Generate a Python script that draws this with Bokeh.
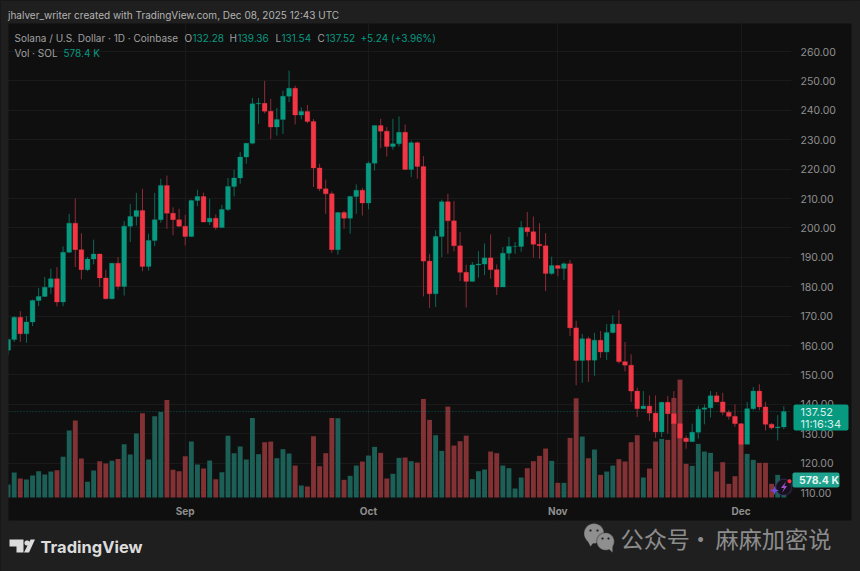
import numpy as np
from bokeh.embed import file_html
from bokeh.resources import INLINE
from bokeh.plotting import figure
from bokeh.models import (ColumnDataSource, Range1d, FixedTicker, Label, BoxAnnotation,
                          PolyAnnotation, NumeralTickFormatter)

# --- daily OHLC (Solana / U.S. Dollar, 3 Aug - 8 Dec 2025) ---
opens = [158.4,162,169.6,164,168,175.3,176.7,179.8,182.7,174.8,191.7,201.6,192.6,185.8,189.4,191.1,183,175.9,188,180.1,
 200.6,203.9,205.9,186.9,195.7,202.8,214.4,205,202.8,200.6,197.1,209.3,210.7,202,203.3,200.1,206.3,214.1,217,224.1,
 228.8,242.2,242.4,239.7,234.3,236.9,244.8,247.5,238.4,239.6,236.2,220.4,213.3,211.6,192.6,205.2,203.3,210.7,212.8,208.5,
 222,234.8,232.9,227.7,228.6,232.5,219.9,229,220.9,188.7,177.6,197.1,208.9,202.4,193.9,184.9,181.8,187.4,187.7,189.8,
 185.8,179.9,191.4,193.7,193.7,200.1,198.7,194.4,193.9,184.5,187.2,186.2,187.8,166,154.9,162.3,155,161.8,157.8,164.4,
 167.3,154.5,153.3,144.5,138.5,139.4,137,130.6,140.7,136.8,133.4,128.5,127.3,130.5,138.3,138.8,142.9,140.8,137.3,135.9,
 133.4,126.4,138.5,144.5,139.1,133.2,132,132.28]
highs = [162.4,170,171.7,170,175.6,179.6,183.3,186.1,186.7,193.7,204.8,210,198.2,190.1,196,191.2,185.8,188,190.1,202.3,
 208.2,211.9,213.3,198,211.9,216.7,217.8,207,206.5,204.5,209.6,213,212,209.9,204.6,207.9,217,219.8,225.8,228.8,
 244.2,244.2,250,243.9,240.8,246.7,253.5,248.4,241,241.8,237,221.8,216.4,212.4,205.4,205.8,210.9,214.8,213.6,222.6,
 234.8,237.1,234.3,237.1,237.9,235.2,229.7,229.4,224.4,191.2,199.2,209.6,211.6,209.1,198.6,187.5,188.4,192.1,194.7,197.8,
 187.6,193.5,196.9,195.2,202.3,205.4,203.9,201.6,198.2,190.2,187.4,188.3,189.1,168.4,163.9,163,164.3,164.9,167.3,170.3,
 172,161.2,157,145.7,144.5,143,143,140.8,142.8,144.5,136.8,129.4,133.4,139.4,140,144.5,144.2,143.9,138,140,
 133.6,140.8,145.9,146.8,140.8,133.6,136.3,139.36]
lows = [156.7,161.2,161.2,160.9,166.6,173.4,176.5,177.6,173.3,173.4,191.5,186.7,182.5,185.3,187.6,179.9,175.7,175.7,179,177,
 195.2,200.8,185.3,185.5,193.8,201.8,199.7,197.5,200.3,194,196.9,207.4,201.9,201,199.4,200.1,205.7,210.7,215,221.8,
 228.4,235.4,239,230.2,231.4,232,242.8,235.2,236.9,235.6,213.9,212.5,204.8,191.5,190.9,199.7,198,204.8,204.2,206.3,
 219.5,227.2,224.3,226.6,227.7,219.8,217.3,216.7,176.7,172.8,173.1,190.1,191.2,192,181.9,172.9,181.8,183.1,183.9,182.7,
 177.2,179.9,189,191.2,191.9,197.1,189.9,189.5,178.5,184,183.6,182.3,163.2,146.5,147.3,147.6,149.7,155.8,155,164.1,
 153.9,151.2,140.8,135.7,138.5,134.3,128.6,128.9,130,126.6,123.8,124.9,127.2,128.3,133.2,135.5,140.6,136.3,134.8,132.3,
 123.6,126.4,138,138,131.1,131.4,127.7,131.54]
closes = [162,169.6,164,168,175.3,176.7,179.8,182.7,174.8,191.7,201.6,192.6,185.8,189.4,191.1,183,175.9,188,180.1,200.6,
 203.9,205.9,186.9,195.7,202.8,214.4,205,202.8,200.6,197.1,209.3,210.7,202,203.3,200.1,206.3,214.1,217,224.1,228.8,
 242.2,242.4,239.7,234.3,236.9,244.8,247.5,238.4,239.6,236.2,220.4,213.3,211.6,192.6,205.2,203.3,210.7,212.8,208.5,222,
 234.8,232.9,227.7,228.6,232.5,219.9,229,220.9,188.7,177.6,197.1,208.9,202.4,193.9,184.9,181.8,187.4,187.7,189.8,185.8,
 179.9,191.4,193.7,193.7,200.1,198.7,194.4,193.9,184.5,187.2,186.2,187.8,166,154.9,162.3,155,161.8,157.8,164.4,167.3,
 154.5,153.3,144.5,138.5,139.4,137,130.6,140.7,136.8,133.4,128.5,127.3,130.5,138.3,138.8,142.9,140.8,137.3,135.9,133.4,
 126.4,138.5,144.5,139.1,133.2,132,132.3,137.52]
# --- daily volume, thousands of SOL ---
volumes = [425,818,621,589,719,861,752,850,894,1330,2191,2518,1275,512,883,1188,1112,1199,1264,1744,
 1406,2093,2758,1243,2660,2801,3194,905,861,1352,1831,1079,948,1210,600,828,2017,1450,1668,1243,
 2605,1417,1809,1831,1286,1581,1439,1046,392,360,2006,1025,1450,2605,2594,578,709,1046,1177,1373,
 1657,1461,621,774,1297,1308,1188,1145,3226,2540,2038,1526,2976,1700,1842,2027,600,861,916,1504,
 1450,1046,959,294,654,959,1188,1363,1602,1199,480,480,1951,3248,1995,1286,1570,741,850,1046,
 1254,1177,1809,2038,654,948,1831,1918,1886,3259,3859,1101,1036,1755,1504,1461,850,1155,447,698,
 1755,1428,1232,1134,1134,447,741,578.4]
price_ticks = [110,120,130,140,150,160,170,180,190,200,210,220,230,240,250,260]
month_positions = [29,59,90,120]
month_labels = ["Sep","Oct","Nov","Dec"]

GREEN, RED = "#089981", "#f23645"
W_GREEN, W_RED = "#0b6a5a", "#8e2c38"
V_GREEN, V_RED = "#1c5f56", "#823234"
BG, OUTER = "#0f0f0f", "#1f1f1f"
FONT = "Inter"

n = len(closes)
idx = list(range(n))
up = [c >= o for o, c in zip(opens, closes)]
src = ColumnDataSource(dict(
    x=idx, open=opens, high=highs, low=lows, close=closes, vol=volumes,
    top=[max(o, c) for o, c in zip(opens, closes)],
    bot=[min(o, c) for o, c in zip(opens, closes)],
    body=[GREEN if u else RED for u in up],
    wick=[W_GREEN if u else W_RED for u in up],
    vcol=[V_GREEN if u else V_RED for u in up],
))

# page-pixel geometry: the frame fills the whole page
WIDTH, HEIGHT = 860, 571
PLOT_R, PLOT_B, PANEL_L, PANEL_R, PANEL_T, PANEL_B = 791, 497, 8, 851, 23, 520
PX_PER_BAR = 6.108
X0_PAGE = 7.6
PX_PER_PRICE = 2.94
Y260_PAGE = 51
K_PER_PX = 32.73

def X(px): return (px - X0_PAGE) / PX_PER_BAR
def Y(py): return 260 - (py - Y260_PAGE) / PX_PER_PRICE

p = figure(width=WIDTH, height=HEIGHT, output_backend="svg", toolbar_location=None,
           x_range=Range1d(X(0), X(WIDTH)), y_range=Range1d(Y(HEIGHT), Y(0)),
           min_border=0, background_fill_color=BG, border_fill_color=OUTER, outline_line_color=None,
           y_axis_location="right")
p.extra_y_ranges = {"vol": Range1d(-(HEIGHT - PLOT_B) * K_PER_PX, PLOT_B * K_PER_PX)}

def box(l, r, t, b, color, level="underlay", radius=0):
    p.add_layout(BoxAnnotation(left=X(l), right=X(r), top=Y(t), bottom=Y(b), fill_color=color, fill_alpha=1,
                               line_color=None, level=level, border_radius=radius))

# bands that hide the grid around the plot area
box(PLOT_R, PANEL_R, PANEL_T, PANEL_B, BG)
box(PANEL_L, PANEL_R, PLOT_B, PANEL_B, BG)
# outer page strips
box(0, WIDTH, 0, PANEL_T, OUTER)
box(0, WIDTH, PANEL_B, HEIGHT, OUTER)
box(PANEL_R, WIDTH, 0, HEIGHT, OUTER)
box(0, PANEL_L, 0, HEIGHT, OUTER, level="annotation")

p.vbar(x="x", width=0.8, bottom=0, top="vol", color="vcol", line_width=0, source=src, y_range_name="vol")
p.segment(x0="x", x1="x", y0="low", y1="high", color="wick", line_width=1, source=src)
p.vbar(x="x", width=0.78, bottom="bot", top="top", fill_color="body", line_color="body", line_width=0.3, source=src)
# last-price line
p.segment(x0=[X(PANEL_L)], x1=[X(PLOT_R)], y0=[closes[-1]], y1=[closes[-1]], line_color=GREEN, line_alpha=0.55,
          line_dash="1 2", line_width=1)

ya = p.yaxis[0]
ya.fixed_location = X(PLOT_R)
ya.ticker = FixedTicker(ticks=price_ticks)
ya.formatter = NumeralTickFormatter(format="0.00")
ya.axis_line_color = None
ya.major_tick_line_color = None
ya.minor_tick_line_color = None
ya.major_tick_out = 0
ya.major_tick_in = 0
ya.major_label_standoff = 9
ya.major_label_text_color = "#8f8f8f"
ya.major_label_text_font = FONT
ya.major_label_text_font_size = "10.5px"

xa = p.xaxis[0]
xa.fixed_location = Y(PLOT_B)
xa.ticker = FixedTicker(ticks=month_positions)
xa.major_label_overrides = dict(zip(month_positions, month_labels))
xa.axis_line_color = None
xa.major_tick_line_color = None
xa.minor_tick_line_color = None
xa.major_tick_out = 0
xa.major_tick_in = 0
xa.major_label_standoff = 7
xa.major_label_text_color = "#8f8f8f"
xa.major_label_text_font = FONT
xa.major_label_text_font_size = "10px"
xa.major_label_text_font_style = "bold"

p.xgrid.grid_line_color = "#1a1a1a"
p.ygrid.grid_line_color = "#1a1a1a"
p.xgrid.ticker = FixedTicker(ticks=month_positions)
p.ygrid.ticker = FixedTicker(ticks=price_ticks)

def text(px, py, s, color, size, align="left", style="normal", font=FONT):
    p.add_layout(Label(x=X(px), y=Y(py), text=s, text_color=color, text_font_size=f"{size}px",
                       text_align=align, text_baseline="middle", text_font=font, text_font_style=style))

def poly(pts, fill, line=None, lw=1, fa=1.0):
    xs = [X(a) for a, _ in pts]
    ys = [Y(b) for _, b in pts]
    p.add_layout(PolyAnnotation(xs=xs, ys=ys, fill_color=fill, fill_alpha=fa, line_color=line, line_width=lw,
                                level="overlay"))

def circle(cx, cy, r, fill, line=None, lw=1, fa=1.0):
    t = np.linspace(0, 2 * np.pi, 40)[:-1]
    poly(list(zip(cx + r * np.cos(t), cy + r * np.sin(t))), fill, line, lw, fa)

# header and legend
G1 = "#b4b4b4"
text(7.5, 14, "jhalver_writer created with TradingView.com, Dec 08, 2025 12:43 UTC", G1, 10)
text(14, 37.5, "Solana / U.S. Dollar · 1D · Coinbase", "#a0a0a0", 10)
for lx, vx, l, v in [(184, 192, "O", "132.28"), (229, 237, "H", "139.36"), (275, 281, "L", "131.54"), (317, 325, "C", "137.52")]:
    text(lx, 37.5, l, "#a0a0a0", 10)
    text(vx, 37.5, v, GREEN, 10)
text(360, 37.5, "+5.24 (+3.96%)", GREEN, 10)
text(14, 52, "Vol · SOL", "#a0a0a0", 10)
text(63, 52, "578.4 K", GREEN, 10)

# price and volume tags
box(793, 848, 404, 430, "#089981", "annotation", 2)
text(800, 411.5, "137.52", "#d8f0ea", 11)
text(800, 423.5, "11:16:34", "#d8f0ea", 11)
box(792, 839, 472, 487, "#1fa28d", "annotation", 2)
text(798.5, 479.5, "578.4 K", "#e4f5f1", 10.5, style="bold")

# bolt badge
circle(783.3, 486.7, 8, "#16121c", "#6d3a9e", 1.5)
poly([(785.5, 481), (780.5, 487.5), (783.5, 487.5), (781.5, 492.5), (786.5, 485.5), (783.8, 485.5)], "#a24fd2")
circle(789, 480.7, 2, "#f23645")
poly([(774, 485.5), (775.2, 488.8), (778.5, 490), (775.2, 491.2), (774, 494.5), (772.8, 491.2), (769.5, 490), (772.8, 488.8)], "#6f4bd8")

# TradingView logo
LOGO = "#dcdcdc"
poly([(9, 539), (23, 539), (23, 552), (16, 552), (16, 546), (9, 546)], LOGO)
circle(26.5, 542.5, 2.6, LOGO)
poly([(30, 539), (34.5, 539), (28.5, 552), (23.5, 552)], LOGO)
text(40, 546, "TradingView", LOGO, 16.5, style="bold")

# WeChat watermark
WC = "#8f8f8f"
circle(593.5, 533, 10, WC, OUTER, 1)
circle(605, 541, 8.8, WC, OUTER, 1.5)
poly([(587, 540), (590, 546), (593, 542)], WC)
poly([(607, 547), (612, 552), (612, 545)], WC)
for a, b in [(590, 530), (597, 530), (602, 538), (608, 538)]:
    circle(a, b, 1.1, OUTER)
CJK = "Noto Sans CJK SC"
text(620, 537, "公众号", "#8c8c8c", 23.2, font=CJK)
text(700, 537, "·", "#8c8c8c", 23.2, "center", font=CJK)
text(715, 537, "麻麻加密说", "#8c8c8c", 23.2, font=CJK)

html = file_html(p, INLINE)
html = html.replace("<head>", f"<head><style>html,body{{background:{OUTER};margin:0;padding:0;overflow:hidden}}</style>", 1)
open("out.html", "w").write(html)
